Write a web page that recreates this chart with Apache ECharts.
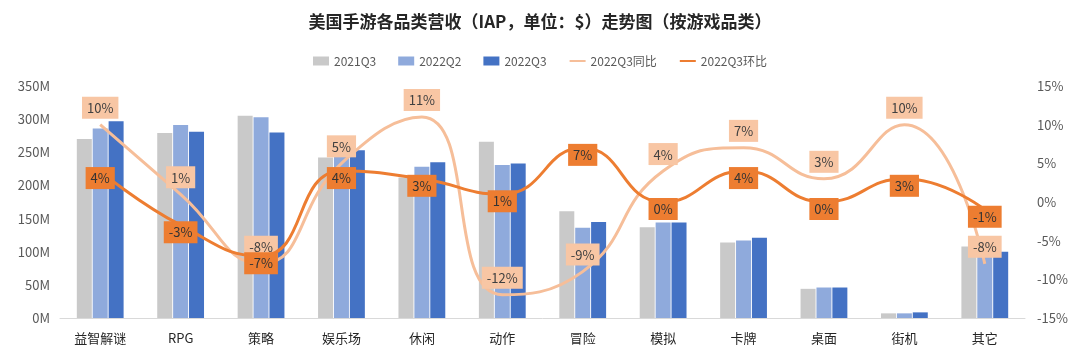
<!DOCTYPE html>
<html>
<head>
<meta charset="utf-8">
<script src="https://cdn.jsdelivr.net/npm/echarts@6/dist/echarts.min.js"></script>
<style>
html,body{margin:0;padding:0;background:#fff;}
#chart{width:1080px;height:349px;}
</style>
</head>
<body>
<div id="chart"></div>
<script>
const categories = ['益智解谜','RPG','策略','娱乐场','休闲','动作','冒险','模拟','卡牌','桌面','街机','其它'];
const rev2021Q3 = [270, 279, 305, 242, 212, 266, 161, 137, 114, 44, 7, 108];
const rev2022Q2 = [286, 291, 303, 245, 228, 231, 136, 144, 117, 46, 7, 103];
const rev2022Q3 = [297, 281, 280, 253, 235, 233, 145, 144, 121, 46, 8.5, 100];
const yoy2022Q3 = [10, 1, -8, 5, 11, -12, -9, 4, 7, 3, 10, -8];
const qoq2022Q3 = [4, -3, -7, 4, 3, 1, 7, 0, 4, 0, 3, -1];
const leftTicks = {min: 0, max: 350, interval: 50};
const rightTicks = {min: -15, max: 15, interval: 5};

const FONT = '"Noto Sans CJK SC", "Noto Sans", sans-serif';
const chart = echarts.init(document.getElementById('chart'), null, {renderer: 'canvas'});

const barCommon = {type: 'bar', barWidth: 15, barGap: '6%', yAxisIndex: 0};

chart.setOption({
  animation: false,
  textStyle: {fontFamily: FONT},
  title: {
    text: '美国手游各品类营收（IAP，单位：$）走势图（按游戏品类）',
    left: 'center', top: 8,
    textStyle: {fontSize: 17, fontWeight: 'bold', color: '#262626', fontFamily: FONT}
  },
  legend: {
    top: 50, left: 'center', itemGap: 22, itemWidth: 16, itemHeight: 9,
    textStyle: {fontSize: 12, color: '#595959', fontFamily: FONT},
    data: [
      {name: '2021Q3', icon: 'rect'},
      {name: '2022Q2', icon: 'rect'},
      {name: '2022Q3', icon: 'rect'},
      {name: '2022Q3同比', itemStyle: {opacity: 0}},
      {name: '2022Q3环比', itemStyle: {opacity: 0}}
    ]
  },
  grid: {left: 60, right: 55, top: 86, bottom: 31, containLabel: false},
  xAxis: {
    type: 'category', data: categories,
    axisLine: {lineStyle: {color: '#d9d9d9', width: 1}},
    axisTick: {show: false},
    axisLabel: {fontSize: 13, color: '#262626', margin: 14, fontFamily: FONT}
  },
  yAxis: [
    {
      type: 'value', min: leftTicks.min, max: leftTicks.max, interval: leftTicks.interval,
      splitLine: {show: false}, axisLine: {show: false}, axisTick: {show: false},
      axisLabel: {formatter: v => v + 'M', fontSize: 13, color: '#595959', margin: 10, fontFamily: FONT}
    },
    {
      type: 'value', min: rightTicks.min, max: rightTicks.max, interval: rightTicks.interval,
      splitLine: {show: false}, axisLine: {show: false}, axisTick: {show: false},
      axisLabel: {formatter: v => v + '%', fontSize: 13, color: '#595959', margin: 12, fontFamily: FONT}
    }
  ],
  series: [
    Object.assign({name: '2021Q3', data: rev2021Q3, itemStyle: {color: '#C9C9C9'}}, barCommon),
    Object.assign({name: '2022Q2', data: rev2022Q2, itemStyle: {color: '#8FAADC'}}, barCommon),
    Object.assign({name: '2022Q3', data: rev2022Q3, itemStyle: {color: '#4472C4'}}, barCommon),
    {
      name: '2022Q3同比', type: 'line', yAxisIndex: 1, data: yoy2022Q3,
      smooth: 0.5, symbol: 'circle', symbolSize: 0, showSymbol: true,
      lineStyle: {color: '#F6BE99', width: 3},
      itemStyle: {color: '#F6BE99'},
      label: {
        show: true, position: 'top', distance: 6,
        formatter: p => p.value + '%',
        backgroundColor: '#F8C6A4', padding: [5, 5, 4, 5],
        color: '#404040', fontSize: 13, fontFamily: FONT
      },
      z: 3
    },
    {
      name: '2022Q3环比', type: 'line', yAxisIndex: 1, data: qoq2022Q3,
      smooth: 0.5, symbol: 'circle', symbolSize: 0, showSymbol: true,
      lineStyle: {color: '#ED7D31', width: 3},
      itemStyle: {color: '#ED7D31'},
      label: {
        show: true, position: 'inside', offset: [0, 7],
        formatter: p => p.value + '%',
        backgroundColor: '#ED7D31', padding: [5, 5, 4, 5],
        color: '#333333', fontSize: 13, fontFamily: FONT
      },
      z: 4
    }
  ]
});
</script>
</body>
</html>
